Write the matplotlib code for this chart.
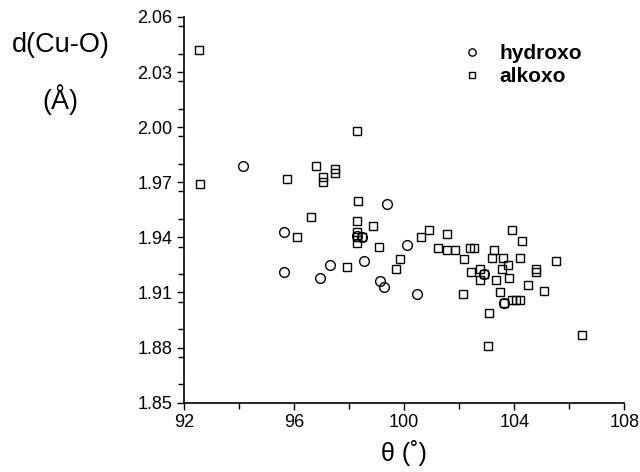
import numpy as np
import matplotlib
matplotlib.use("Agg")
import matplotlib.pyplot as plt
from matplotlib.ticker import MultipleLocator

plt.rcParams['font.family'] = ['Liberation Sans', 'DejaVu Sans']

# hydroxo-bridged complexes: angle (deg), Cu-O distance (A)
hydroxo_theta = [94.15, 95.65, 95.65, 96.95, 97.31, 98.30, 98.45, 98.55, 99.14,
                 99.28, 99.38, 100.11, 100.45, 102.91, 103.64]
hydroxo_d = [1.979, 1.943, 1.921, 1.918, 1.925, 1.941, 1.940, 1.927, 1.916,
             1.913, 1.958, 1.936, 1.909, 1.920, 1.904]

# alkoxo-bridged complexes
alkoxo_theta = [92.55, 92.58, 95.76, 96.81, 97.04, 97.04, 97.49, 97.49, 98.28,
                98.34, 96.61, 96.10, 98.28, 98.88, 98.28, 98.28, 98.28, 98.46,
                99.10, 97.94, 99.85, 99.71, 100.62, 100.90, 101.55, 101.23,
                101.55, 101.85, 102.18, 102.40, 102.52, 103.25, 103.20, 103.60,
                103.77, 103.55, 103.93, 104.27, 104.22, 104.79, 104.79, 105.52,
                104.50, 105.07, 106.48, 103.03, 103.10, 102.13, 102.43, 102.76,
                102.75, 102.91, 103.34, 103.80, 103.49, 103.92, 104.05, 104.20,
                103.64]
alkoxo_d = [2.042, 1.969, 1.972, 1.979, 1.973, 1.970, 1.977, 1.975, 1.998,
            1.960, 1.951, 1.940, 1.949, 1.946, 1.943, 1.940, 1.937, 1.940,
            1.935, 1.924, 1.928, 1.923, 1.940, 1.944, 1.942, 1.934,
            1.933, 1.933, 1.928, 1.934, 1.934, 1.933, 1.929, 1.929,
            1.925, 1.923, 1.944, 1.938, 1.929, 1.923, 1.921, 1.927,
            1.914, 1.911, 1.887, 1.881, 1.899, 1.909, 1.921, 1.923,
            1.917, 1.920, 1.917, 1.918, 1.910, 1.906, 1.906, 1.906,
            1.904]

yticks = [1.85, 1.88, 1.91, 1.94, 1.97, 2.00, 2.03, 2.06]
xticks = [92, 96, 100, 104, 108]

fig = plt.figure(figsize=(6.4, 4.72), dpi=100)
ax = fig.add_axes([0.2875, 0.147, 0.688, 0.817])

ax.plot(hydroxo_theta, hydroxo_d, 'o', ms=7, mfc='none', mec='black', mew=1.0,
        label='hydroxo')
ax.plot(alkoxo_theta, alkoxo_d, 's', ms=6.3, mfc='none', mec='black', mew=1.0,
        label='alkoxo')

ax.set_xlim(92, 108)
ax.set_ylim(1.85, 2.06)
ax.set_xticks(xticks)
ax.set_yticks(yticks)
ax.set_yticklabels(['%.2f' % v for v in yticks])
ax.yaxis.set_minor_locator(MultipleLocator(0.015))
ax.xaxis.set_minor_locator(MultipleLocator(2))

for s in ['top', 'right']:
    ax.spines[s].set_visible(False)
for s in ['left', 'bottom']:
    ax.spines[s].set_linewidth(1.2)
ax.tick_params(which='both', direction='out', width=1.0, labelsize=13)
ax.tick_params(which='major', length=5)
ax.tick_params(which='minor', length=4)

ax.set_xlabel('θ (˚)', fontsize=18, labelpad=6)
fig.text(0.095, 0.905, 'd(Cu-O)', fontsize=19.5, ha='center', va='center')
fig.text(0.095, 0.79, '(Å)', fontsize=19.5, ha='center', va='center')

leg = ax.legend(loc='upper left', bbox_to_anchor=(0.631, 0.93), frameon=False,
                prop={'weight': 'bold', 'size': 15}, handlelength=1.0,
                handletextpad=0.8, labelspacing=0.2, borderpad=0,
                borderaxespad=0, markerscale=0.75)

fig.savefig('out.png', dpi=100)
